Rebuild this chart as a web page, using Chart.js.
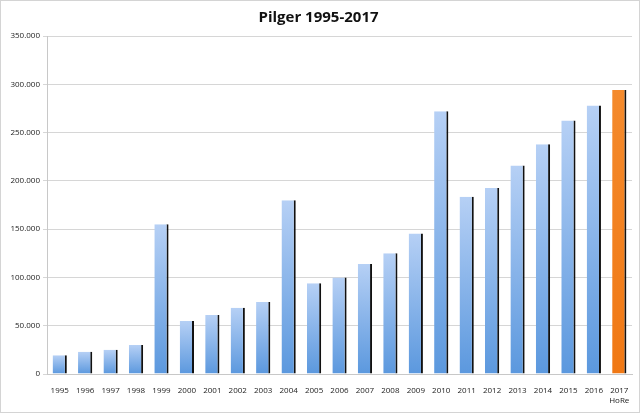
<!DOCTYPE html>
<html>
<head>
<meta charset="utf-8">
<script src="https://cdn.jsdelivr.net/npm/chart.js@4"></script>
<style>
  html, body { margin: 0; padding: 0; background: #fff; }
  #wrap { width: 638px; height: 411px; border: 1px solid #d4d4d4; position: relative; }
</style>
</head>
<body>
<div id="wrap"><canvas id="pilgerChart" width="638" height="411"></canvas></div>
<script>
// Data
const years = [
  "1995", "1996", "1997", "1998", "1999", "2000", "2001", "2002",
  "2003", "2004", "2005", "2006", "2007", "2008", "2009", "2010",
  "2011", "2012", "2013", "2014", "2015", "2016", ["2017", "HoRe"],
];
const pilger = [
  19500, 23000, 25000, 30000, 155000, 55000, 61000, 68500,
  74500, 180000, 94000, 100000, 114000, 125000, 145500, 272000,
  183500, 192500, 216000, 238000, 262500, 278000, 294000,
];
const yTicks = [0, 50000, 100000, 150000, 200000, 250000, 300000, 350000];

function barGradient(context) {
  const chart = context.chart;
  if (!chart.chartArea || !chart.scales.y) return "#8db6ea";
  const last = context.dataIndex === pilger.length - 1;
  const top = chart.scales.y.getPixelForValue(context.raw);
  const base = chart.scales.y.getPixelForValue(0);
  const g = chart.ctx.createLinearGradient(0, top, 0, base);
  if (last) {
    g.addColorStop(0, "#f48a2c");
    g.addColorStop(1, "#f07814");
  } else {
    g.addColorStop(0, "#b6d0f5");
    g.addColorStop(1, "#5b98de");
  }
  return g;
}

document.addEventListener("DOMContentLoaded", function () {
  let ctx = document.getElementById("pilgerChart").getContext("2d");
  let pilgerChart = new Chart(ctx, {
    type: "bar",
    data: {
      labels: years,
      datasets: [
        {
          label: "Pilger",
          data: pilger,
          backgroundColor: barGradient,
          borderColor: "#111111",
          borderWidth: { top: 0, left: 0, bottom: 0, right: 2 },
          borderSkipped: false,
          barPercentage: 0.56,
          categoryPercentage: 1.0,
        },
      ],
    },
    options: {
      responsive: false,
      animation: false,
      layout: { padding: { left: 4, right: 7, top: 0, bottom: 0 } },
      plugins: {
        legend: { display: false },
        tooltip: { enabled: false },
        title: {
          display: true,
          text: "Pilger 1995-2017",
          color: "#111",
          font: { family: "Open Sans", size: 15, weight: "bold" },
          padding: { top: 8, bottom: 9 },
        },
      },
      scales: {
        x: {
          grid: { display: false, drawTicks: true },
          border: { color: "#c8c8c8" },
          ticks: {
            color: "#222",
            font: { family: "Open Sans", size: 8 },
            maxRotation: 0,
            autoSkip: false,
            padding: 4,
          },
          afterFit: function (scale) { scale.height = 38; },
        },
        y: {
          min: 0,
          max: 350000,
          afterBuildTicks: function (scale) {
            scale.ticks = yTicks.map(function (v) { return { value: v }; });
          },
          grid: { color: "#d6d6d6", tickLength: 4 },
          border: { color: "#c8c8c8" },
          ticks: {
            color: "#222",
            font: { family: "Open Sans", size: 8 },
            padding: 3,
            callback: function (v) {
              return v === 0 ? "0" : v.toLocaleString("de-DE");
            },
          },
          afterFit: function (scale) { scale.width = 42; },
        },
      },
    },
  });
});
</script>
</body>
</html>
